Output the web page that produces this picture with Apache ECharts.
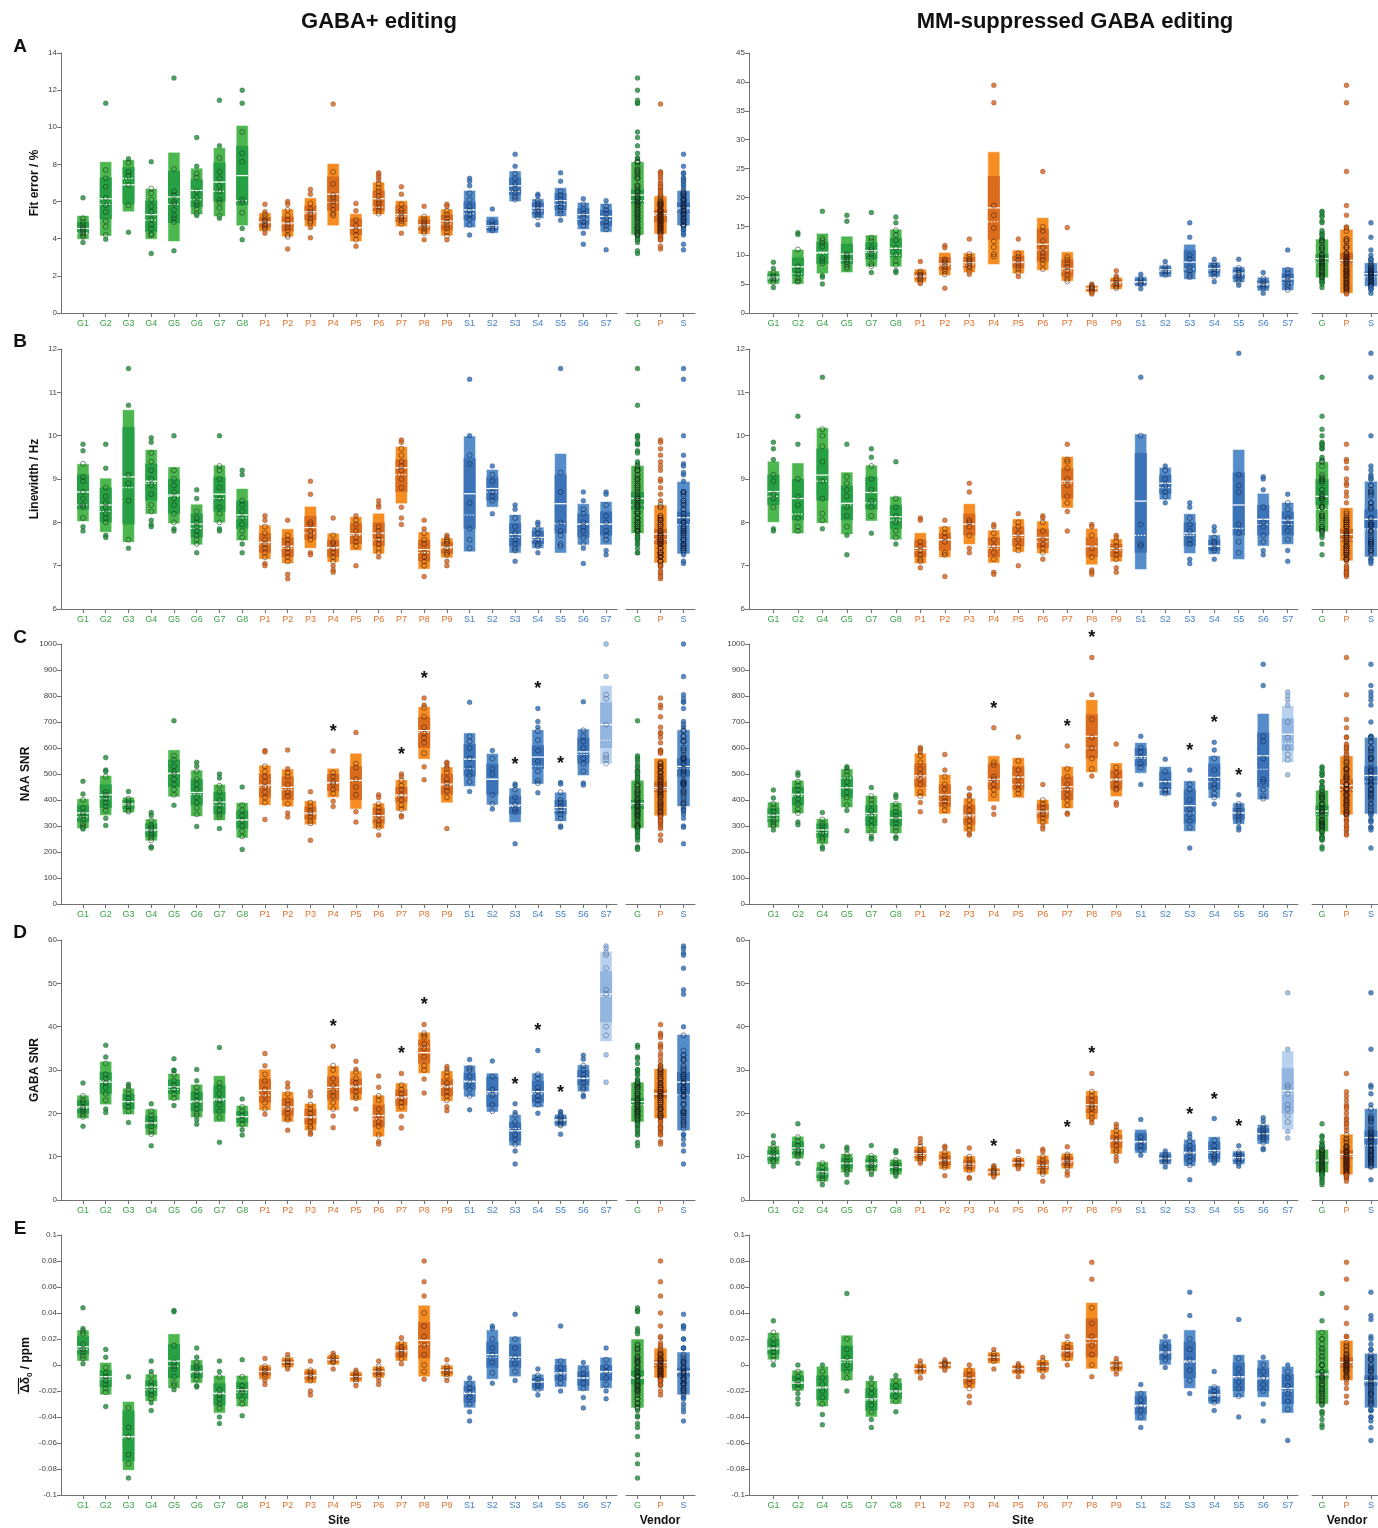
<!DOCTYPE html>
<html><head><meta charset="utf-8">
<script src="https://cdn.jsdelivr.net/npm/echarts@6/dist/echarts.min.js"></script>
<style>html,body{margin:0;padding:0;background:#fff}#c{width:1378px;height:1528px}</style>
</head><body><div id="c"></div><script>
const FONT = '"Liberation Sans", Arial, Helvetica, sans-serif';
const SITES_L = ['G1','G2','G3','G4','G5','G6','G7','G8','P1','P2','P3','P4','P5','P6','P7','P8','P9','S1','S2','S3','S4','S5','S6','S7'];
const SITES_R = ['G1','G2','G4','G5','G7','G8','P1','P2','P3','P4','P5','P6','P7','P8','P9','S1','S2','S3','S4','S5','S6','S7'];
const VENDORS = ['G','P','S'];
const Y_TICKS = {fitPlus:[0,14,2], fitMM:[0,45,5], lw:[6,12,1], naa:[0,1000,100], gaba:[0,60,10], shift:[-0.1,0.1,0.02]};

// box: [lower, innerLower, innerUpper, upper, mean, median]
const fitPlusBox = [[3.97,4.3,4.9,5.25,4.55,4.3],[4.15,5.05,7.3,8.15,6.15,5.85],[5.45,5.85,7.85,8.25,6.9,7.25],[3.97,4.35,6.05,6.7,5.3,5.0],[3.85,4.85,7.65,8.65,6.25,5.85],[5.3,5.7,7.2,7.8,6.6,6.1],[5.2,6.0,8.1,8.9,7.05,6.55],[4.7,5.8,9.0,10.1,7.4,6.05],[4.4,4.6,5.15,5.4,4.9,4.85],[4.1,4.4,5.2,5.6,4.85,4.8],[4.65,5.0,5.8,6.2,5.45,5.35],[4.7,5.5,7.35,8.05,6.4,5.95],[3.85,4.2,5.1,5.35,4.6,4.55],[5.3,5.5,6.6,7.05,6.15,5.7],[4.65,4.9,5.8,6.05,5.3,5.2],[4.25,4.45,5.05,5.25,4.75,4.65],[4.15,4.45,5.3,5.6,4.95,4.8],[4.6,5.0,6.0,6.6,5.55,5.35],[4.3,4.45,5.0,5.2,4.7,4.6],[6.0,6.35,7.3,7.65,6.85,6.55],[5.1,5.3,5.95,6.15,5.65,5.5],[5.2,5.55,6.45,6.75,6.05,5.85],[4.5,4.75,5.65,5.95,5.3,5.05],[4.35,4.7,5.55,5.9,5.2,5.0]];
const fitPlusVBox = [[4.2,5.9,6.65,8.15,6.35,6.05],[4.25,4.9,5.55,6.3,5.35,5.25],[4.7,5.4,5.95,6.6,5.65,5.55]];
const fitPlusPts = [[6.2,5.1,4.9,4.75,4.6,4.5,4.4,4.3,4.2,4.1,3.8],[11.3,7.7,7.25,6.8,6.2,5.8,5.45,4.95,4.65,4.2,3.97],[8.3,8.1,7.6,7.4,6.9,5.8,4.35],[8.15,6.7,6.45,6.1,5.75,5.45,5.05,4.75,4.55,4.25,4.2,3.2],[12.65,7.75,6.55,6.35,6.0,5.9,5.55,5.25,5.1,4.9,3.35],[9.45,7.9,7.5,7.3,6.55,6.25,5.95,5.8,5.6,5.35,5.25],[11.45,9.0,8.35,7.6,7.25,6.85,6.55,6.1,5.95,5.65,5.25,5.1],[12.0,11.3,9.75,8.6,8.15,6.1,5.95,5.4,4.55,3.95],[5.85,5.45,5.3,5.15,5.0,4.95,4.8,4.7,4.6,4.5,4.3],[6.0,5.85,5.55,5.25,5.0,4.8,4.6,4.45,4.2,4.1,3.45],[6.65,6.4,5.9,5.6,5.45,5.3,5.1,4.95,4.85,4.6,4.05],[11.25,7.6,6.95,6.35,6.2,6.0,5.8,5.55,5.35,5.25],[5.9,5.5,5.0,4.7,4.45,4.2,3.95,3.6],[7.55,7.45,7.3,7.15,6.95,6.75,6.55,6.3,6.05,5.9,5.7,5.5,5.35],[6.8,6.4,5.85,5.55,5.4,5.2,5.1,4.95,4.8,4.3],[5.75,5.2,5.05,4.9,4.8,4.7,4.55,4.4,4.3,3.95],[5.85,5.75,5.5,5.3,5.1,4.9,4.7,4.55,4.35,4.15,3.95],[7.25,7.1,6.85,6.45,6.1,5.75,5.5,5.3,5.05,4.75,4.2],[5.6,4.95,4.75,4.55,4.45],[8.55,7.9,7.5,7.25,6.95,6.7,6.45,6.25,6.1],[6.4,6.3,6.05,5.9,5.75,5.6,5.45,5.3,5.15,4.75],[7.55,7.1,6.55,6.35,6.1,5.9,5.7,5.5,5.35,5.0],[6.15,5.85,5.6,5.35,5.15,4.9,4.7,4.3,3.7],[6.05,5.75,5.55,5.35,5.1,4.9,4.7,4.5,3.4]];

const fitMMBox = [[5.0,5.5,6.8,7.3,6.2,5.9],[5.0,6.4,9.6,11.0,8.0,6.8],[6.8,8.5,12.3,13.8,10.5,10.3],[7.0,8.5,12.0,13.3,10.2,9.1],[8.0,9.3,12.2,13.5,10.8,10.5],[8.0,9.6,13.0,14.5,11.2,10.0],[5.3,5.8,7.1,7.6,6.4,6.2],[6.5,7.4,9.7,10.5,8.5,8.2],[7.0,7.8,9.7,10.4,8.7,8.3],[8.4,12.7,23.7,27.9,18.2,15.8],[6.8,7.8,9.9,10.9,8.8,8.7],[7.4,8.9,14.6,16.5,11.9,10.9],[5.5,6.3,9.3,10.6,7.7,7.3],[3.6,3.9,4.6,4.8,4.3,4.2],[4.1,4.6,5.8,6.2,5.3,5.0],[4.6,4.9,5.9,6.3,5.4,5.3],[6.2,6.7,7.9,8.3,7.5,7.2],[5.8,7.0,10.9,11.9,8.8,7.6],[6.2,6.9,8.3,8.8,7.7,7.4],[5.3,5.9,7.5,8.0,6.9,6.6],[3.8,4.3,5.6,6.2,5.0,4.8],[3.9,4.9,6.8,7.9,5.9,5.2]];
const fitMMVBox = [[6.1,8.7,10.2,12.8,9.4,8.8],[3.4,8.4,10.4,14.5,9.1,8.6],[4.6,6.3,7.2,8.7,6.8,6.3]];
const fitMMPts = [[8.8,7.7,7.0,6.5,6.1,5.7,5.3,4.4],[13.9,13.6,11.0,8.1,7.3,6.7,6.0,5.6,5.4],[17.6,12.9,12.5,12.1,11.5,9.5,9.0,8.6,6.5,6.2,5.0],[16.9,15.9,10.2,9.9,9.6,9.3,8.8,8.4,8.0,7.7],[17.4,13.0,12.4,11.3,10.9,10.2,9.6,8.5,8.1,7.0],[16.6,15.6,14.3,13.5,12.6,11.3,10.1,9.0,8.3,7.3,7.0],[8.9,7.2,6.9,6.6,6.3,6.0,5.7,5.3,5.1],[11.7,11.3,9.3,9.0,8.7,8.1,7.6,7.2,6.7,4.3],[12.8,10.2,9.7,9.3,9.0,8.6,8.1,7.8,7.2,6.7],[39.4,36.4,18.6,16.9,14.7,12.4,11.4,10.2,9.8],[12.8,10.3,9.8,9.2,8.6,8.1,7.6,7.0,6.3],[24.5,14.9,14.2,12.5,11.3,10.4,9.8,9.2,8.5,7.6],[14.8,9.7,9.2,8.6,8.0,7.3,6.5,5.9,5.5],[5.0,4.7,4.5,4.3,4.1,3.9,3.7,3.5,3.3],[7.3,6.4,6.0,5.6,5.2,4.9,4.6,4.3],[6.7,6.0,5.6,5.2,4.9,4.2],[8.9,8.1,7.6,7.1,6.6],[15.6,13.1,10.0,9.3,7.9,7.3,6.6,6.2],[9.3,8.6,8.2,7.6,7.1,6.8,6.3,5.4],[9.3,7.8,7.3,7.0,6.6,6.2,5.7,5.3,4.8],[7.0,6.0,5.5,5.0,4.6,4.2,3.4],[10.9,7.5,6.9,6.2,5.6,5.0,4.5,4.0]];

const lwPlusBox = [[8.02,8.3,9.1,9.35,8.7,8.4],[7.77,8.0,8.8,9.02,8.4,8.25],[7.54,7.95,10.2,10.6,9.05,8.8],[8.19,8.5,9.35,9.68,8.95,8.9],[7.97,8.2,9.0,9.28,8.63,8.6],[7.48,7.65,8.2,8.42,7.96,7.86],[7.99,8.25,9.05,9.32,8.65,8.55],[7.58,7.85,8.5,8.78,8.17,8.1],[7.15,7.3,7.75,7.94,7.54,7.5],[7.05,7.2,7.65,7.85,7.45,7.4],[7.4,7.6,8.15,8.37,7.88,7.75],[7.08,7.2,7.6,7.75,7.42,7.4],[7.35,7.5,7.98,8.13,7.74,7.7],[7.27,7.45,8.0,8.21,7.75,7.6],[8.43,8.7,9.45,9.75,9.26,9.1],[6.92,7.1,7.6,7.78,7.37,7.3],[7.18,7.28,7.55,7.64,7.43,7.4],[7.32,7.85,9.48,9.99,8.66,8.17],[8.35,8.5,9.05,9.22,8.78,8.7],[7.29,7.45,7.98,8.18,7.72,7.65],[7.4,7.5,7.8,7.89,7.65,7.6],[7.29,7.75,9.1,9.59,8.43,7.97],[7.48,7.65,8.2,8.43,7.96,7.95],[7.48,7.7,8.25,8.48,7.96,7.95]];
const lwPlusVBox = [[7.74,8.3,8.7,9.31,8.55,8.4],[7.06,7.5,7.85,8.4,7.73,7.6],[7.27,7.95,8.25,8.94,8.11,7.95]];
const lwPlusPts = [[9.8,9.65,9.35,9.05,8.95,8.7,8.55,8.4,8.35,8.1,7.9,7.8],[9.8,9.25,8.8,8.6,8.45,8.35,8.2,8.1,8.0,7.7,7.65],[11.55,10.7,9.1,8.9,8.5,7.6,7.4],[9.95,9.85,9.6,9.4,9.2,9.0,8.85,8.65,8.4,8.25,8.05,7.95,7.9],[10.0,9.2,9.0,8.85,8.7,8.55,8.4,8.2,8.0,7.85,7.8],[8.75,8.55,8.25,8.1,8.0,7.9,7.8,7.7,7.6,7.5,7.3],[10.0,9.3,9.2,9.0,8.8,8.55,8.35,8.2,8.0,7.85,7.8],[9.2,9.1,8.5,8.4,8.25,8.1,7.95,7.8,7.65,7.5,7.3],[8.15,8.05,7.9,7.75,7.6,7.5,7.4,7.3,7.2,7.05,7.0],[8.05,7.7,7.6,7.5,7.4,7.3,7.2,7.1,6.8,6.7],[8.95,8.65,8.0,7.95,7.8,7.7,7.6,7.3,7.25],[8.1,7.7,7.55,7.5,7.4,7.3,7.2,7.1,7.0,6.9,6.85],[8.15,8.05,7.95,7.8,7.65,7.55,7.45,7.0],[8.5,8.4,8.35,7.9,7.8,7.7,7.6,7.5,7.4,7.3,7.2],[9.9,9.85,9.7,9.55,9.4,9.3,9.2,9.0,8.8,8.35,8.1,7.95],[8.05,7.85,7.75,7.6,7.5,7.3,7.2,7.1,7.0,6.75],[7.7,7.65,7.6,7.55,7.5,7.4,7.3,7.25,7.1,7.0],[11.3,10.0,9.55,9.35,8.45,7.85,7.6,7.4],[9.3,9.1,8.95,8.7,8.6,8.5,8.2],[8.4,8.3,8.1,7.9,7.75,7.6,7.5,7.4,7.35,7.1],[8.0,7.95,7.85,7.75,7.6,7.5,7.45,7.3],[11.55,9.15,8.7,8.0,7.8,7.7,7.5,7.45],[8.7,8.5,8.3,8.2,8.0,7.9,7.8,7.65,7.5,7.4,7.05],[8.7,8.65,8.4,8.15,8.0,7.8,7.7,7.6,7.35,7.25]];

const lwMMBox = [[8.0,8.4,9.1,9.41,8.71,8.6],[7.74,8.05,9.0,9.37,8.55,8.19],[7.98,8.5,9.7,10.18,9.09,8.95],[7.72,8.05,8.85,9.16,8.44,8.4],[8.03,8.3,9.05,9.32,8.69,8.45],[7.6,7.85,8.4,8.6,8.13,8.05],[7.05,7.2,7.6,7.76,7.4,7.35],[7.19,7.35,7.75,7.91,7.6,7.6],[7.49,7.7,8.2,8.43,7.96,7.95],[7.06,7.2,7.65,7.82,7.45,7.4],[7.31,7.45,7.9,8.08,7.7,7.65],[7.28,7.4,7.85,8.03,7.65,7.55],[8.33,8.55,9.25,9.52,8.95,8.9],[7.02,7.2,7.65,7.86,7.44,7.45],[7.09,7.2,7.5,7.62,7.4,7.35],[6.91,7.3,9.6,10.04,8.49,7.7],[8.52,8.65,9.1,9.27,8.9,8.8],[7.28,7.45,8.0,8.2,7.75,7.7],[7.26,7.35,7.6,7.71,7.45,7.45],[7.14,7.7,9.15,9.68,8.4,7.86],[7.45,7.7,8.4,8.67,8.07,7.95],[7.49,7.7,8.25,8.46,8.05,7.95]];
const lwMMVBox = [[7.78,8.4,9.0,9.4,8.6,8.3],[7.11,7.55,7.85,8.34,7.72,7.6],[7.2,7.85,8.3,8.95,8.07,7.85]];
const lwMMPts = [[9.85,9.7,9.45,9.1,8.95,8.65,8.55,8.35,7.85,7.8],[10.45,9.8,9.0,8.6,8.4,8.1,7.9,7.8],[11.35,10.15,10.0,9.75,9.4,8.95,8.55,8.2,8.05,7.85],[9.8,9.05,8.9,8.75,8.6,8.35,8.15,7.9,7.7,7.25],[9.7,9.5,9.3,9.0,8.75,8.5,8.35,8.15,7.75],[9.4,8.55,8.35,8.15,8.0,7.8,7.65,7.5],[8.1,8.05,7.55,7.45,7.35,7.25,7.15,7.1,6.95],[8.05,7.85,7.75,7.65,7.55,7.3,7.25,6.75],[8.9,8.7,8.05,8.0,7.9,7.7,7.4,7.3],[7.95,7.9,7.75,7.6,7.45,7.3,7.15,6.85,6.8],[8.2,8.0,7.9,7.75,7.6,7.45,7.35,7.0],[8.15,8.1,8.0,7.8,7.6,7.5,7.4,7.3,7.15],[9.8,9.45,9.4,9.25,9.0,8.85,8.6,8.45,8.25,7.8],[7.95,7.9,7.7,7.4,7.2,6.9,6.85,6.8],[7.7,7.65,7.55,7.45,7.35,7.25,7.15,6.95,6.85],[11.35,10.0,7.95,7.5,7.45],[9.3,9.2,9.0,8.85,8.7,8.6,8.45],[8.45,8.35,8.1,7.95,7.8,7.6,7.5,7.15,7.05],[7.9,7.8,7.65,7.55,7.5,7.4,7.35,7.15],[11.9,9.1,8.85,8.7,7.95,7.75,7.55,7.3],[9.05,9.0,8.75,8.35,8.0,7.9,7.7,7.55,7.35,7.25],[8.65,8.45,8.3,8.1,7.95,7.8,7.6,7.35,7.1]];

const naaPlusBox = [[290,315,380,405,350,335],[341,370,460,494,420,405],[351,365,400,411,385,380],[243,258,310,327,285,282],[412,450,555,593,503,500],[337,380,480,515,429,420],[321,345,430,460,392,380],[254,290,360,390,323,325],[380,410,500,534,457,450],[374,400,490,519,449,440],[305,325,375,397,350,345],[410,435,500,522,467,465],[365,400,530,580,475,475],[289,310,370,388,340,330],[358,390,450,478,419,415],[557,600,720,759,667,660],[389,420,500,527,461,455],[452,490,615,658,557,520],[381,420,540,579,480,480],[314,345,415,446,380,375],[461,520,610,670,565,530],[318,345,400,430,371,360],[494,540,640,673,585,575],[538,600,775,840,690,630]];
const naaPlusVBox = [[291,365,400,476,387,380],[339,430,470,561,448,440],[375,490,560,670,529,520]];
const naaPlusPts = [[472,423,400,370,350,340,325,310,300,293,288],[563,515,510,490,430,420,405,390,375,360,330,302],[433,405,395,385,375,360,355],[352,340,320,305,295,285,275,265,255,245,220,215],[705,570,555,530,510,500,480,460,440,420,380],[545,530,510,480,460,440,410,390,370,345,298],[500,485,455,430,400,380,360,345,335,290],[450,380,360,340,320,300,280,260,210],[590,585,530,510,490,470,450,430,410,390,325],[592,520,505,490,460,430,415,385,350,335],[432,390,375,360,350,335,320,310,245],[588,505,490,470,460,440,425,395,375],[660,540,525,480,450,420,355,315],[420,410,385,370,355,340,320,305,295,265],[500,490,475,455,440,420,400,380,365,340,335],[792,765,755,720,680,655,640,620,580,528,478],[545,540,530,520,505,480,465,450,435,410,290],[776,645,625,600,560,520,495,470,433],[590,560,520,500,420,385,365],[462,455,440,410,385,365,355,232],[752,702,680,665,630,590,550,510,475,465,428],[467,462,430,400,390,375,360,345,330,300,295],[778,668,645,625,600,560,540,510,465,458],[1000,875,805,790,690,575,565,555,540]];

const naaMMBox = [[293,315,370,392,342,330],[348,380,450,476,422,415],[230,255,310,328,285,275],[371,410,490,520,447,485],[271,300,380,417,348,340],[271,300,360,390,331,332],[413,450,540,580,493,485],[346,375,460,498,420,394],[278,305,380,407,342,335],[393,440,540,570,480,470],[408,440,530,563,488,460],[307,330,385,402,357,350],[367,400,490,529,451,440],[506,560,730,786,645,599],[413,440,515,543,480,475],[503,530,600,621,567,560],[417,440,510,529,471,440],[279,310,440,474,378,350],[407,440,540,570,487,470],[307,325,370,389,350,352],[401,450,660,733,570,518],[544,590,715,763,653,618]];
const naaMMVBox = [[278,340,380,438,357,345],[343,430,480,570,456,440],[346,460,530,641,494,470]];
const naaMMPts = [[438,408,385,370,355,340,325,315,305,300,285],[505,495,470,455,440,420,405,385,365,350,315,305],[352,325,310,300,285,270,255,245,220,212],[528,522,510,495,470,450,430,410,380,360,282],[448,415,400,385,360,340,320,300,275,258,250],[420,410,385,370,355,340,325,310,295,280,258,252],[602,595,585,570,545,520,500,480,460,430,415,390,355],[575,515,490,460,440,410,395,380,360,320],[445,420,415,400,380,360,340,320,300,285,270,265],[678,545,535,490,480,460,440,420,370,345],[642,550,515,485,460,440,425],[460,400,385,370,355,345,330,315,300,288],[608,520,490,460,440,420,400,380,350,345],[948,805,710,640,600,560,520,492],[615,525,505,480,460,445,440,390,380],[645,600,585,565,540,525,460],[557,510,470,440,435,425],[515,460,440,400,365,345,320,295,215],[622,592,560,515,480,460,445,425,410,385],[420,385,375,360,350,340,325,315,295,285],[922,840,645,625,560,480,470,440,415,405],[815,800,785,765,700,640,600,575,555,497]];

const gabaPlusBox = [[18.8,20,23,24.2,21.5,21.2],[22,24.5,29.5,32,27.2,27.5],[19.7,21,24.5,25.8,22.7,22.8],[15,16.5,19.5,21,17.8,17.6],[23,24.5,27.8,29.2,26.1,25.5],[19,20.5,25,26.7,22.8,22.5],[18,20,26.5,28.7,23.3,23.0],[16.8,17.8,20.5,21.8,19.2,19.3],[20.7,22.5,28,30.2,25.3,24.2],[18,19.5,23.5,25,21.5,21],[16,17.5,21,22.3,19.2,19],[20.7,23,28.5,31,26,25.5],[23,24.5,28,29.8,26.3,26],[14.6,16.8,22,24.2,19.5,18.7],[20.3,21.8,25.5,27,23.8,23.5],[29.2,31.5,37,38.7,34,35.3],[22.8,24,28,29.8,26.3,26],[23.8,25.5,29.3,31.1,27.3,27.5],[20.3,21.5,28.5,29.3,25,24.5],[12.5,13.5,18,19.7,16,16.5],[21.4,22.5,27.5,29.3,25,24.5],[17,17.5,19.3,19.8,18.5,18.3],[25,26.5,30,31.2,28.1,28],[36.6,41,52.8,57.4,47.5,47]];
const gabaPlusVBox = [[18,22,23.5,27.2,22.7,22],[18.8,23.5,25.5,30.3,24.5,24.5],[16,24.5,29.5,38.2,27.2,24.3]];
const gabaPlusPts = [[27,24,23,22.5,21.5,21,20.5,19.8,19.2,17],[35.7,33,31.5,29,28,27,26,24.5,23,21,20.2],[26.7,26.2,25.5,24.5,23.5,22.5,21.5,20.5,17.9],[22.2,20.5,19.5,18.5,17.8,17,16,15.2,12.5],[32.6,30,29.8,29,27.5,26.5,25.5,24.5,23.5,21.8],[30.1,27.5,26,25,24,23,22,21,20,19.5,18.5,17.5],[35.2,27,26,24.5,23,22,20.5,19,13.3],[23.3,21.5,20.5,19.5,18.5,17.5,16.2,15],[33.8,31,29,27.5,25.5,24,22.5,21,19.8],[27,26,24.5,23,22,21,20,19,18.5,16.1],[25,24,22,21,20,19,18,17,16.5,15.5,15.2],[35.5,31,30,28,26.5,25,24,22.5,21,19.4,16.7],[32,30.2,29.5,28,27,26,25,24,23.5,21],[28.6,26,24,23,21,19.5,18,17,15,13.5,12.9],[29.2,26.5,25.5,24.5,23.5,22.5,21.5,19.3,16.6],[40.5,38.5,38,37.5,36,35,33,31,30,27.9,24.7],[30.8,30.2,29.5,28.5,27,26,25,24,23,21.5,20.6],[32.4,30.5,30,28.5,27,25.5,24,20.8],[32.1,28.5,25.5,24.2,22,20.5],[22.2,20.2,19.5,18,16.5,15,14,12.8,11.3,8.3],[34.5,29,28,26,25,24,23,22,20],[20.4,20.1,19.5,19,18.5,18,17.5,17.2,15.2],[33.4,32.5,31,30,29,28,27,26,25.5,24.2,23.8],[58.6,58,57,56.5,53.5,48.5,47.5,40,38,33.5,27.2]];

const gabaMMBox = [[8.2,9,11.5,12.5,10.3,10],[9.5,10.5,13.5,14.7,12,11.4],[4.2,5,7.5,8.8,6.5,6],[6.3,7.2,9.7,10.7,8.5,8.4],[6.6,7.5,9.4,10.4,8.5,8.2],[5.8,6.6,8.6,9.4,7.6,7.5],[8.9,9.6,11.6,12.4,10.7,10.3],[7.1,8,10.3,11.3,9.2,9],[6.4,7.2,9.3,10.2,8.3,7.8],[5.5,5.9,7,7.4,6.5,6.2],[7.5,8,9.3,9.8,8.6,8.5],[5.9,7,9.3,10.3,8,7.5],[7.2,7.9,10,10.8,9,8.6],[18.6,20,24,25.2,22,21.3],[10.6,12,15,16.3,13.8,13.5],[10.8,11.5,15.5,16.3,13.5,13.2],[8.2,8.8,10.5,11.1,9.6,9.5],[7.8,8.8,12.8,14,11,10.7],[8.6,9.5,13.5,14.6,11.4,10.9],[8.2,8.8,10.8,11.3,9.8,9.5],[12.9,13.8,16.6,17.4,15.3,15.3],[16.2,20,30.4,34.4,25.2,24.5]];
const gabaMMVBox = [[6.3,8.5,9.5,11.7,9.2,8.9],[5.8,9.5,11.5,15.2,10.5,10],[7.3,12.5,16,21.1,14.4,12.6]];
const gabaMMPts = [[14.8,13.2,12.2,11.5,10.8,10,9.3,8.8,7.8],[17.6,14.5,13.5,12.5,11.5,11,10.5,10,8.5],[12.4,8.5,7.5,6.5,5.8,5,4.5,3.5],[12.2,11.6,10.5,9.8,9,8.3,7.5,7,6.5,5.8,4.1],[12.6,10.2,9.5,8.8,8,7.5,7,6.6,5.9],[11.4,10.9,9.2,8.5,8,7.5,7,6.5,6,5.5],[14.2,13.2,12.3,11.5,11,10.5,10,9.5,9,8.5],[12.4,12,11,10.2,9.5,9,8.5,8,7.5,5.6],[12,10,9.3,8.5,8,7.5,6.8,5.2,5],[7.9,7.7,7.2,6.8,6.5,6.2,5.8,5.3],[11.2,9.5,9,8.5,8,7.7,7.2],[11.7,11.2,10,9.2,8.4,7.8,7,6.5,6,4.3],[12.3,10.5,10,9.4,9,8.5,8,7.5,6.4,5.7],[29.2,25,24,23,22,21.5,21,20,19,18.5,17.8],[17.5,16.8,16,15,14,13.5,12.5,11.5,11,9.9,9],[18.6,14.5,13.5,12.5,11.5,10.3],[11.3,10.5,10,9.5,9,8.5,7.6],[15.3,14.5,13.5,12.5,11.5,11,10,9,8,4.7],[18.8,13.8,12.5,11.5,10.5,10,9.5,9,8.5],[12.5,11,10.5,10,9.5,9,8.5,7.8],[19,18.2,17.2,16.5,16,15.5,15,14.5,14,13.3,11.9,11.6],[47.8,34.8,26.5,26,24.5,22,21,19.5,18,15.8,14.3]];

const shiftPlusBox = [[0.003,0.008,0.022,0.027,0.014,0.012],[-0.023,-0.017,-0.004,0.002,-0.009,-0.011],[-0.081,-0.074,-0.035,-0.028,-0.055,-0.056],[-0.028,-0.024,-0.012,-0.007,-0.017,-0.019],[-0.018,-0.01,0.016,0.024,0.003,-0.001],[-0.014,-0.01,0.0,0.004,-0.005,-0.006],[-0.037,-0.031,-0.014,-0.008,-0.022,-0.021],[-0.032,-0.026,-0.013,-0.008,-0.019,-0.021],[-0.011,-0.008,-0.002,0.0,-0.005,-0.005],[-0.002,0.0,0.004,0.006,0.002,0.002],[-0.014,-0.011,-0.005,-0.003,-0.008,-0.009],[0.0,0.002,0.006,0.008,0.004,0.004],[-0.013,-0.011,-0.007,-0.005,-0.009,-0.009],[-0.01,-0.008,-0.003,-0.001,-0.005,-0.005],[0.003,0.006,0.015,0.018,0.011,0.01],[-0.009,0.005,0.033,0.046,0.019,0.016],[-0.009,-0.007,-0.002,0.0,-0.004,-0.004],[-0.033,-0.029,-0.016,-0.012,-0.022,-0.021],[-0.011,-0.002,0.018,0.027,0.008,0.006],[-0.009,-0.002,0.016,0.022,0.006,0.004],[-0.02,-0.018,-0.01,-0.007,-0.013,-0.013],[-0.017,-0.012,0.0,0.005,-0.006,-0.007],[-0.02,-0.016,-0.005,0.0,-0.01,-0.01],[-0.018,-0.012,0.0,0.006,-0.005,-0.006]];
const shiftPlusVBox = [[-0.033,-0.015,-0.004,0.02,-0.01,-0.009],[-0.01,-0.002,0.004,0.013,0.002,0.0],[-0.023,-0.009,-0.002,0.01,-0.005,-0.006]];
const shiftPlusPts = [[0.044,0.028,0.026,0.024,0.016,0.012,0.01,0.007,0.005,0.001],[0.012,0.006,-0.002,-0.006,-0.009,-0.012,-0.015,-0.018,-0.021,-0.032],[-0.009,-0.033,-0.048,-0.055,-0.069,-0.076,-0.087],[0.003,-0.005,-0.008,-0.013,-0.016,-0.02,-0.023,-0.026,-0.029,-0.035],[0.042,0.041,0.015,0.002,-0.001,-0.003,-0.009,-0.014,-0.016,-0.019],[0.013,0.006,0.002,-0.001,-0.003,-0.006,-0.008,-0.011,-0.016,-0.017],[0.003,-0.005,-0.009,-0.019,-0.023,-0.026,-0.03,-0.033,-0.04,-0.045],[0.004,-0.009,-0.016,-0.019,-0.021,-0.026,-0.03,-0.039],[0.005,-0.001,-0.003,-0.005,-0.007,-0.009,-0.012,-0.015],[0.008,0.005,0.003,0.002,0.0,-0.001,-0.003],[0.003,-0.004,-0.006,-0.008,-0.01,-0.012,-0.02,-0.023],[0.009,0.007,0.005,0.003,0.002,-0.003],[-0.004,-0.006,-0.008,-0.009,-0.011,-0.013,-0.016],[0.003,-0.001,-0.003,-0.005,-0.007,-0.009,-0.012,-0.015],[0.021,0.017,0.014,0.012,0.01,0.008,0.005,0.001],[0.08,0.064,0.053,0.04,0.03,0.022,0.015,0.008,0.0,-0.005,-0.011],[0.004,-0.001,-0.003,-0.005,-0.007,-0.009,-0.012],[-0.01,-0.014,-0.018,-0.021,-0.025,-0.03,-0.036,-0.043],[0.03,0.028,0.02,0.013,0.008,0.002,-0.006,-0.014],[0.039,0.02,0.013,0.006,0.001,-0.005,-0.012],[-0.003,-0.008,-0.011,-0.014,-0.016,-0.019,-0.023],[0.03,0.003,-0.002,-0.006,-0.01,-0.014,-0.02],[0.002,-0.003,-0.007,-0.01,-0.014,-0.018,-0.025,-0.033],[0.013,0.004,-0.001,-0.005,-0.01,-0.015,-0.02,-0.026]];

const shiftMMBox = [[0.004,0.008,0.02,0.025,0.013,0.012],[-0.02,-0.018,-0.008,-0.004,-0.014,-0.013],[-0.032,-0.027,-0.008,-0.001,-0.017,-0.018],[-0.012,-0.005,0.015,0.023,0.004,0.002],[-0.04,-0.035,-0.018,-0.012,-0.026,-0.027],[-0.03,-0.026,-0.014,-0.01,-0.02,-0.021],[-0.007,-0.005,-0.001,0.001,-0.003,-0.003],[-0.003,-0.002,0.002,0.003,0.0,0.0],[-0.018,-0.015,-0.005,-0.002,-0.01,-0.01],[0.001,0.003,0.008,0.01,0.006,0.006],[-0.007,-0.006,-0.001,0.0,-0.003,-0.003],[-0.006,-0.004,0.002,0.004,-0.001,-0.001],[0.003,0.006,0.015,0.018,0.011,0.01],[-0.003,0.006,0.036,0.048,0.02,0.017],[-0.005,-0.003,0.002,0.003,0.0,-0.001],[-0.043,-0.038,-0.024,-0.02,-0.031,-0.032],[0.0,0.004,0.016,0.02,0.01,0.009],[-0.018,-0.01,0.018,0.027,0.003,0.002],[-0.03,-0.028,-0.019,-0.016,-0.023,-0.024],[-0.025,-0.02,0.002,0.008,-0.009,-0.01],[-0.025,-0.02,-0.002,0.004,-0.01,-0.011],[-0.037,-0.03,-0.007,-0.001,-0.018,-0.02]];
const shiftMMVBox = [[-0.03,-0.01,-0.004,0.027,-0.007,-0.008],[-0.012,-0.002,0.006,0.019,0.002,0.0],[-0.033,-0.016,-0.008,0.009,-0.012,-0.013]];
const shiftMMPts = [[0.034,0.025,0.02,0.016,0.013,0.01,0.007,0.004,0.0],[0.0,-0.005,-0.009,-0.012,-0.015,-0.018,-0.022,-0.026,-0.03],[0.0,-0.005,-0.01,-0.015,-0.02,-0.025,-0.03,-0.038,-0.046],[0.055,0.02,0.012,0.006,0.0,-0.005,-0.01,-0.02],[-0.01,-0.014,-0.018,-0.022,-0.027,-0.031,-0.036,-0.042,-0.048],[-0.008,-0.012,-0.016,-0.02,-0.024,-0.028,-0.036],[0.003,0.0,-0.002,-0.004,-0.006,-0.01],[0.004,0.002,0.001,0.0,-0.002,-0.004],[0.0,-0.004,-0.008,-0.011,-0.014,-0.018,-0.024,-0.029],[0.012,0.009,0.007,0.005,0.003,-0.003],[0.001,-0.001,-0.003,-0.005,-0.009],[0.006,0.003,0.0,-0.002,-0.005,-0.009],[0.022,0.017,0.014,0.011,0.008,0.005,0.0],[0.079,0.066,0.044,0.032,0.022,0.015,0.008,0.0,-0.009],[0.005,0.002,0.0,-0.002,-0.004,-0.007],[-0.015,-0.022,-0.027,-0.031,-0.035,-0.04,-0.048],[0.022,0.016,0.012,0.008,0.004,-0.002],[0.056,0.038,0.02,0.012,0.004,-0.004,-0.012,-0.022],[-0.005,-0.017,-0.02,-0.023,-0.026,-0.029,-0.035],[0.035,0.005,-0.003,-0.008,-0.013,-0.018,-0.024,-0.04],[0.006,0.0,-0.005,-0.01,-0.015,-0.02,-0.03,-0.043],[0.0,-0.005,-0.01,-0.016,-0.022,-0.028,-0.034,-0.058]];

const STAR_SITES = ['P4','P7','P8','S3','S4','S5'];
const FADED_SITES = ['S7'];

const COLORS = {
  G: {outer:'#4db74f', inner:'#26a043', dot:'#1f8b3b', ring:'rgba(20,50,25,0.85)', label:'#3aa346'},
  P: {outer:'#f68d22', inner:'#db6c1e', dot:'#d4621c', ring:'rgba(70,30,10,0.85)', label:'#e4702a'},
  S: {outer:'#558cca', inner:'#3b73b9', dot:'#2d6db5', ring:'rgba(15,35,70,0.85)', label:'#3c7cc6'},
  F: {outer:'#b8d1ee', inner:'#93b6e1', dot:'#8db5e3', ring:'rgba(60,90,140,0.8)', label:'#3c7cc6'}
};

const ROW_TOP = [53, 349, 644, 940, 1235];
const H = 260;
const COLS = [
  {site:{left:61, width:556, min:-0.967, max:23.48}, vend:{left:626, width:69, min:-0.5, max:2.5}, sites:SITES_L},
  {site:{left:749, width:549, min:-0.996, max:21.42}, vend:{left:1312, width:66, min:-0.41, max:2.29}, sites:SITES_R}
];

const PANELS = [
  {row:0,col:0,box:fitPlusBox,vbox:fitPlusVBox,pts:fitPlusPts,ticks:Y_TICKS.fitPlus},
  {row:0,col:1,box:fitMMBox,vbox:fitMMVBox,pts:fitMMPts,ticks:Y_TICKS.fitMM},
  {row:1,col:0,box:lwPlusBox,vbox:lwPlusVBox,pts:lwPlusPts,ticks:Y_TICKS.lw},
  {row:1,col:1,box:lwMMBox,vbox:lwMMVBox,pts:lwMMPts,ticks:Y_TICKS.lw},
  {row:2,col:0,box:naaPlusBox,vbox:naaPlusVBox,pts:naaPlusPts,ticks:Y_TICKS.naa,stars:true,faded:true},
  {row:2,col:1,box:naaMMBox,vbox:naaMMVBox,pts:naaMMPts,ticks:Y_TICKS.naa,stars:true,faded:true},
  {row:3,col:0,box:gabaPlusBox,vbox:gabaPlusVBox,pts:gabaPlusPts,ticks:Y_TICKS.gaba,stars:true,faded:true},
  {row:3,col:1,box:gabaMMBox,vbox:gabaMMVBox,pts:gabaMMPts,ticks:Y_TICKS.gaba,stars:true,faded:true},
  {row:4,col:0,box:shiftPlusBox,vbox:shiftPlusVBox,pts:shiftPlusPts,ticks:Y_TICKS.shift},
  {row:4,col:1,box:shiftMMBox,vbox:shiftMMVBox,pts:shiftMMPts,ticks:Y_TICKS.shift}
];

const AXIS_COLOR = '#707070';
const grids = [], xAxes = [], yAxes = [], series = [];

function labelFmt(v){ const r = Math.round(v*1000)/1000; return String(r); }

function boxSeries(gi, boxes, keys, hw){
  return {
    type:'custom', xAxisIndex:gi, yAxisIndex:gi, silent:true, z:2, clip:false,
    data: boxes.map((b,i)=>[i,b[0],b[1],b[2],b[3],b[4],b[5]]),
    encode:{x:0, y:[1,4]},
    renderItem:function(params, api){
      const c = COLORS[keys[params.dataIndex]];
      const x = api.value(0);
      const pLo = api.coord([x, api.value(1)]);
      const pCl = api.coord([x, api.value(2)]);
      const pCh = api.coord([x, api.value(3)]);
      const pHi = api.coord([x, api.value(4)]);
      const pMe = api.coord([x, api.value(5)]);
      const pMd = api.coord([x, api.value(6)]);
      const cx = pLo[0];
      return {type:'group', children:[
        {type:'rect', shape:{x:cx-hw, y:pHi[1], width:2*hw, height:pLo[1]-pHi[1]}, style:{fill:c.outer, stroke:'rgba(255,255,255,0.55)', lineWidth:1}},
        {type:'rect', shape:{x:cx-hw, y:pCh[1], width:2*hw, height:pCl[1]-pCh[1]}, style:{fill:c.inner}},
        {type:'line', shape:{x1:cx-hw, y1:pMe[1], x2:cx+hw, y2:pMe[1]}, style:{stroke:'rgba(255,255,255,0.95)', lineWidth:1.3}},
        {type:'line', shape:{x1:cx-hw, y1:pMd[1], x2:cx+hw, y2:pMd[1]}, style:{stroke:'rgba(255,255,255,0.95)', lineWidth:1.1, lineDash:[1.5,1.5]}}
      ]};
    }
  };
}

function pointSeries(gi, pts, boxes, keys){
  const data = [];
  pts.forEach((arr,i)=>{
    const c = COLORS[keys[i]], b = boxes[i];
    arr.forEach(v=>{
      const inside = v >= b[0] && v <= b[3];
      data.push({value:[i,v], itemStyle: inside
        ? {color:'rgba(0,0,0,0)', borderColor:c.ring, borderWidth:0.8}
        : {color:c.dot, borderColor:'rgba(0,0,0,0.35)', borderWidth:0.6}});
    });
  });
  return {type:'scatter', xAxisIndex:gi, yAxisIndex:gi, symbol:'circle', symbolSize:5, z:3, silent:true, clip:false, data};
}

function starSeries(gi, sites, pts){
  const data = STAR_SITES.map(s=>{ const i = sites.indexOf(s); return [i, Math.max.apply(null, pts[i])]; });
  return {type:'custom', xAxisIndex:gi, yAxisIndex:gi, silent:true, z:4, clip:false, data, encode:{x:0,y:1},
    renderItem:function(params, api){
      const p = api.coord([api.value(0), api.value(1)]);
      return {type:'text', x:p[0], y:p[1]-19, style:{text:'*', fill:'#111', font:'bold 18px '+FONT, align:'center', verticalAlign:'middle', textAlign:'center', textVerticalAlign:'middle'}};
    }};
}

PANELS.forEach(p=>{
  const col = COLS[p.col], top = ROW_TOP[p.row], sites = col.sites;
  const [ymin, ymax, ystep] = p.ticks;
  const gi = grids.length;
  const idx = sites.map((_,i)=>i);
  grids.push({left:col.site.left, width:col.site.width, top:top, height:H});
  xAxes.push({type:'value', gridIndex:gi, min:col.site.min, max:col.site.max, splitLine:{show:false},
    axisLine:{show:true, onZero:false, lineStyle:{color:AXIS_COLOR, width:1}},
    axisTick:{show:true, customValues:idx, length:4, lineStyle:{color:AXIS_COLOR}},
    axisLabel:{show:true, customValues:idx, margin:6, fontSize:9, fontFamily:FONT,
      formatter:v=>{const s = sites[Math.round(v)]; return s ? '{'+s[0]+'|'+s+'}' : '';},
      rich:{G:{color:COLORS.G.label,fontSize:9,fontFamily:FONT},P:{color:COLORS.P.label,fontSize:9,fontFamily:FONT},S:{color:COLORS.S.label,fontSize:9,fontFamily:FONT}}}});
  yAxes.push({type:'value', gridIndex:gi, min:ymin, max:ymax, interval:ystep, splitLine:{show:false},
    axisLine:{show:true, onZero:false, lineStyle:{color:AXIS_COLOR, width:1}},
    axisTick:{show:true, length:4, lineStyle:{color:AXIS_COLOR}},
    axisLabel:{fontSize:8, color:'#444', margin:4, fontFamily:FONT, formatter:labelFmt}});
  const keys = sites.map(s => (p.faded && FADED_SITES.includes(s)) ? 'F' : s[0]);
  series.push(boxSeries(gi, p.box, keys, 6));
  series.push(pointSeries(gi, p.pts, p.box, keys));
  if (p.stars) series.push(starSeries(gi, sites, p.pts));

  const vi = grids.length;
  grids.push({left:col.vend.left, width:col.vend.width, top:top, height:H});
  xAxes.push({type:'value', gridIndex:vi, min:col.vend.min, max:col.vend.max, splitLine:{show:false},
    axisLine:{show:true, onZero:false, lineStyle:{color:AXIS_COLOR, width:1}},
    axisTick:{show:true, customValues:[0,1,2], length:4, lineStyle:{color:AXIS_COLOR}},
    axisLabel:{show:true, customValues:[0,1,2], margin:6, fontSize:9, fontFamily:FONT,
      formatter:v=>{const s = VENDORS[Math.round(v)]; return s ? '{'+s+'|'+s+'}' : '';},
      rich:{G:{color:COLORS.G.label,fontSize:9,fontFamily:FONT},P:{color:COLORS.P.label,fontSize:9,fontFamily:FONT},S:{color:COLORS.S.label,fontSize:9,fontFamily:FONT}}}});
  yAxes.push({type:'value', gridIndex:vi, min:ymin, max:ymax, interval:ystep, show:false});
  const vpts = VENDORS.map(v => [].concat.apply([], sites.map((s,i)=> s[0]===v ? p.pts[i] : [])));
  series.push(boxSeries(vi, p.vbox, VENDORS, 6.5));
  series.push(pointSeries(vi, vpts, p.vbox, VENDORS));
});

const Y_NAMES = [
  {text:'Fit error / %', x:35, row:0},
  {text:'Linewidth / Hz', x:35, row:1},
  {text:'NAA SNR', x:26, row:2},
  {text:'GABA SNR', x:35, row:3}
];
const graphics = [];
graphics.push({type:'text', x:379, y:22, style:{text:'GABA+ editing', font:'bold 22px '+FONT, fill:'#111', align:'center', verticalAlign:'middle', textAlign:'center', textVerticalAlign:'middle'}});
graphics.push({type:'text', x:1075, y:22, style:{text:'MM-suppressed GABA editing', font:'bold 22px '+FONT, fill:'#111', align:'center', verticalAlign:'middle', textAlign:'center', textVerticalAlign:'middle'}});
['A','B','C','D','E'].forEach((L,i)=>{
  graphics.push({type:'text', x:20, y:[47,342,638,933,1229][i], style:{text:L, font:'bold 19px '+FONT, fill:'#111', align:'center', verticalAlign:'middle', textAlign:'center', textVerticalAlign:'middle'}});
});
Y_NAMES.forEach(n=>{
  graphics.push({type:'text', x:n.x, y:ROW_TOP[n.row]+H/2, rotation:Math.PI/2, style:{text:n.text, font:'bold 12px '+FONT, fill:'#111', align:'center', verticalAlign:'middle', textAlign:'center', textVerticalAlign:'middle'}});
});
graphics.push({type:'text', x:26, y:ROW_TOP[4]+H/2, rotation:Math.PI/2, style:{text:'{a|Δδ}{b|0}{a| / ppm}', rich:{a:{font:'bold 12px '+FONT, fill:'#111', color:'#111', lineHeight:16}, b:{font:'bold 8px '+FONT, fill:'#111', color:'#111', lineHeight:16, verticalAlign:'bottom'}}, align:'center', verticalAlign:'middle', textAlign:'center', textVerticalAlign:'middle'}});
graphics.push({type:'line', shape:{x1:18.5, y1:1394, x2:18.5, y2:1378}, style:{stroke:'#111', lineWidth:1.2}});
[['Site',339],['Vendor',660],['Site',1023],['Vendor',1347]].forEach(t=>{
  graphics.push({type:'text', x:t[1], y:1521, style:{text:t[0], font:'bold 12px '+FONT, fill:'#111', align:'center', verticalAlign:'middle', textAlign:'center', textVerticalAlign:'middle'}});
});

const chart = echarts.init(document.getElementById('c'), null, {renderer:'canvas'});
chart.setOption({
  animation:false, backgroundColor:'#fff',
  textStyle:{fontFamily:FONT},
  grid:grids, xAxis:xAxes, yAxis:yAxes, series:series, graphic:graphics
});
</script></body></html>
